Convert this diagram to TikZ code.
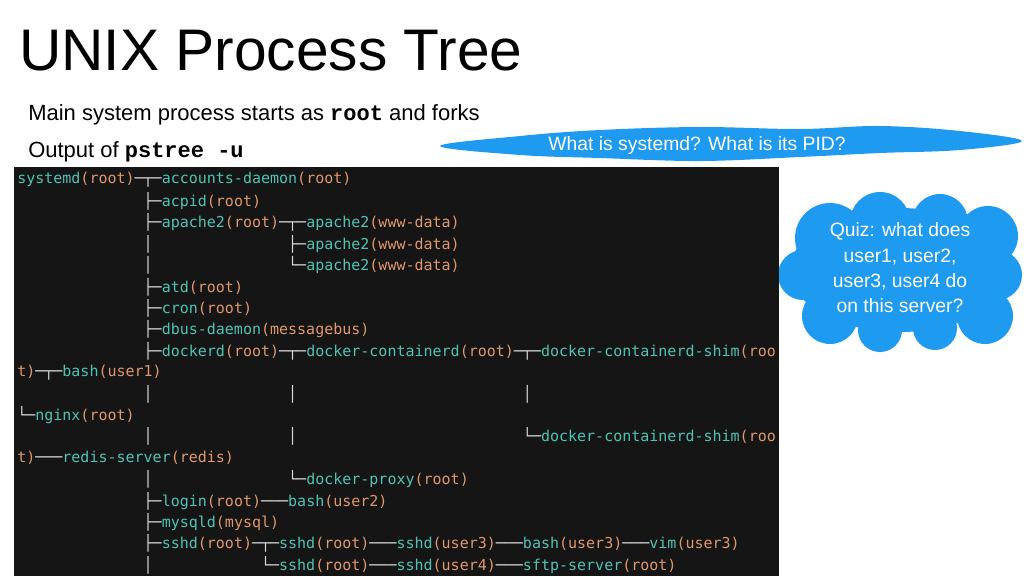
\documentclass[tikz,border=0pt]{standalone}
\usepackage{fontspec}
\setmainfont{Liberation Sans}
\newfontfamily\termfont{DejaVu Sans Mono}
\newfontfamily\codefont{Liberation Mono}

\definecolor{termbg}{HTML}{151515}
\definecolor{tteal}{HTML}{4EC3B4}
\definecolor{torange}{HTML}{E0976A}
\definecolor{ttree}{HTML}{DADADA}
\definecolor{cloudblue}{HTML}{1E9BF0}

\newlength\cw
\newcommand\ind[1]{\hspace*{#1\cw}}
\newcommand\pr[2]{\textcolor{tteal}{#1}\textcolor{torange}{(#2)}}

\tikzset{
  termline/.style={anchor=west, inner sep=0pt, text=ttree,
    font=\termfont\fontsize{11.25}{12}\selectfont},
  bubbletext/.style={text=white, align=center, font=\fontsize{14.5}{19}\selectfont},
  note/.style={anchor=base west, inner sep=0pt, font=\fontsize{16.5}{20}\selectfont},
}

\begin{document}
\settowidth{\cw}{\termfont\fontsize{11.25}{12}\selectfont x}%
\begin{tikzpicture}[x=0.75pt,y=0.75pt,yscale=-1,xscale=1]
\useasboundingbox (0,0) rectangle (1024,576);

% Title and notes
\node (title) [anchor=base west, inner sep=0pt, font=\fontsize{44}{50}\selectfont] at (19,70) {UNIX Process Tree};
\node (main) [note] at (28,120)
  {Main system process starts as {\codefont\bfseries root} and forks};
\node (output) [note] at (28,157)
  {Output of {\codefont\bfseries pstree -u}};

% Clouds
\fill[cloudblue] plot[smooth cycle, tension=0.6] coordinates {
  (440,146) (520,136) (600,130) (700,127) (800,129) (880,126) (960,131)
  (1022,141) (960,150) (880,153) (800,157) (700,161) (600,158) (520,155)};
\node (pid) [bubbletext] at (697,145) {What is systemd? What is its PID?};
\fill[cloudblue] (900,270) ellipse [x radius=110, y radius=62];
\foreach \cx/\cy/\r in {830/238/35, 880/222/30, 940/222/28, 988/236/30, 997/275/25,
  985/316/28, 935/328/22, 880/330/22, 830/316/28, 803/275/25}
  \fill[cloudblue] (\cx,\cy) circle [radius=\r];
\node (quiz) [bubbletext] at (900,268)
  {Quiz: what does\\user1, user2,\\user3, user4 do\\on this server?};

% Terminal
\fill[termbg] (14,167) rectangle (779,576);
\node (l0) [termline] at (17,180) {\pr{systemd}{root}─┬─\pr{accounts-daemon}{root}};
\node (l1) [termline] at (17,201.4) {\ind{14}├─\pr{acpid}{root}};
\node (l2) [termline] at (17,222.8) {\ind{14}├─\pr{apache2}{root}─┬─\pr{apache2}{www-data}};
\node (l3) [termline] at (17,244.2) {\ind{14}│\ind{15}├─\pr{apache2}{www-data}};
\node (l4) [termline] at (17,265.6) {\ind{14}│\ind{15}└─\pr{apache2}{www-data}};
\node (l5) [termline] at (17,287.0) {\ind{14}├─\pr{atd}{root}};
\node (l6) [termline] at (17,308.4) {\ind{14}├─\pr{cron}{root}};
\node (l7) [termline] at (17,329.8) {\ind{14}├─\pr{dbus-daemon}{messagebus}};
\node (l8) [termline] at (17,351.2) {\ind{14}├─\pr{dockerd}{root}─┬─\pr{docker-containerd}{root}─┬─\textcolor{tteal}{docker-containerd-shim}\textcolor{torange}{(roo}};
\node (l9) [termline] at (17,372.6) {\textcolor{torange}{t)}─┬─\pr{bash}{user1}};
\node (l10) [termline] at (17,394.0) {\ind{14}│\ind{15}│\ind{25}│};
\node (l11) [termline] at (17,415.4) {└─\pr{nginx}{root}};
\node (l12) [termline] at (17,436.8) {\ind{14}│\ind{15}│\ind{25}└─\textcolor{tteal}{docker-containerd-shim}\textcolor{torange}{(roo}};
\node (l13) [termline] at (17,458.2) {\textcolor{torange}{t)}───\pr{redis-server}{redis}};
\node (l14) [termline] at (17,479.6) {\ind{14}│\ind{15}└─\pr{docker-proxy}{root}};
\node (l15) [termline] at (17,501.0) {\ind{14}├─\pr{login}{root}───\pr{bash}{user2}};
\node (l16) [termline] at (17,522.4) {\ind{14}├─\pr{mysqld}{mysql}};
\node (l17) [termline] at (17,543.8) {\ind{14}├─\pr{sshd}{root}─┬─\pr{sshd}{root}───\pr{sshd}{user3}───\pr{bash}{user3}───\pr{vim}{user3}};
\node (l18) [termline] at (17,565.2) {\ind{14}│\ind{12}└─\pr{sshd}{root}───\pr{sshd}{user4}───\pr{sftp-server}{root}};

\end{tikzpicture}
\end{document}
